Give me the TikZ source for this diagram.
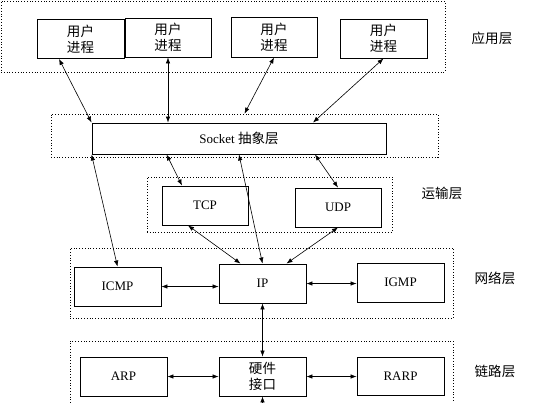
\documentclass[tikz,border=0pt]{standalone}
\usepackage{fontspec}
\setmainfont{Liberation Serif}
\newfontfamily\cjk[Scale=1.04]{Noto Sans CJK SC}
\usetikzlibrary{arrows.meta,calc}

\begin{document}
\begin{tikzpicture}[x=1pt,y=-1pt,
    box/.style={draw,line width=0.9pt,minimum width=87pt,minimum height=39pt,
      inner sep=0pt,align=center,font=\fontsize{13}{16}\selectfont},
    layer/.style={draw,dotted,line width=0.8pt,inner sep=0pt},
    lname/.style={font=\fontsize{13}{15}\cjk},
    link/.style={{Latex[length=6pt,width=4.5pt]}-{Latex[length=6pt,width=4.5pt]},line width=0.6pt}]
        \useasboundingbox (0,0) rectangle (538,402);
        \clip (0,0) rectangle (538,402);
        % layers
        \node[layer,minimum width=444pt,minimum height=71pt] (applayer) at (223,36.5) {};
        \node[layer,minimum width=387pt,minimum height=43pt] (socklayer) at (244.5,135.5) {};
        \node[layer,minimum width=245pt,minimum height=55pt] (translayer) at (269.5,204.5) {};
        \node[layer,minimum width=383pt,minimum height=70pt] (netlayer) at (261.5,283) {};
        \node[layer,minimum width=383pt,minimum height=80pt] (linklayer) at (261.5,381) {};
        \node[lname] (appname) at (492,38) {应用层};
        \node[lname] (transname) at (442,193) {运输层};
        \node[lname] (netname) at (495,278) {网络层};
        \node[lname] (linkname) at (495,371) {链路层};
        % boxes
        \node[box] (proc1) at (80.5,39) {\cjk 用户\\\cjk 进程};
        \node[box,minimum width=86pt] (proc2) at (168,37.5) {\cjk 用户\\\cjk 进程};
        \node[box,minimum width=86pt,minimum height=40pt] (proc3) at (274,37) {\cjk 用户\\\cjk 进程};
        \node[box] (proc4) at (383.5,38.5) {\cjk 用户\\\cjk 进程};
        \node[box,minimum width=294pt,minimum height=31pt] (socket) at (239,138.5)
        {Socket {\cjk 抽象层}};
        \node[box,minimum width=86pt] (tcp) at (205,205.5) {TCP};
        \node[box,minimum width=86pt] (udp) at (338,207.5) {UDP};
        \node[box] (icmp) at (117.5,286.5) {ICMP};
        \node[box] (ip) at (262.5,283.5) {IP};
        \node[box] (igmp) at (400.5,282.5) {IGMP};
        \node[box] (arp) at (123.5,376.5) {ARP};
        \node[box] (hw) at (262.5,376.5) {\cjk 硬件\\\cjk 接口};
        \node[box,minimum height=38pt] (rarp) at (400.5,376) {RARP};
        \coordinate (hwdown) at (262.5,412);
        % connectors
        \draw[link] ($(proc1.south)+(-21.5,0)$) -- (socket.north west);
        \draw[link] (proc2.south) -- (proc2.south |- socket.north);
        \draw[link] (proc3.south) -- (socklayer.north);
        \draw[link] (proc4.south) -- ($(socket.north)+(74,0)$);
        \draw[link] ($(socket.south west)+(75,0)$) -- ($(tcp.north)+(-23,0)$);
        \draw[link] ($(socket.south)+(76,0)$) -- (udp.north);
        \draw[link] (socket.south west) -- (icmp.north);
        \draw[link] (socket.south) -- (ip.north);
        \draw[link] ($(tcp.south)+(-17,0)$) -- ($(ip.north)+(-22,0)$);
        \draw[link] (udp.south) -- ($(ip.north)+(24,0)$);
        \draw[link] (icmp.east) -- (icmp.east -| ip.west);
        \draw[link] (ip.east) -- (ip.east -| igmp.west);
        \draw[link] (ip.south) -- (hw.north);
        \draw[link] (arp.east) -- (arp.east -| hw.west);
        \draw[link] (hw.east) -- (hw.east -| rarp.west);
        \draw[link] (hw.south) -- (hwdown);
\end{tikzpicture}
\end{document}
